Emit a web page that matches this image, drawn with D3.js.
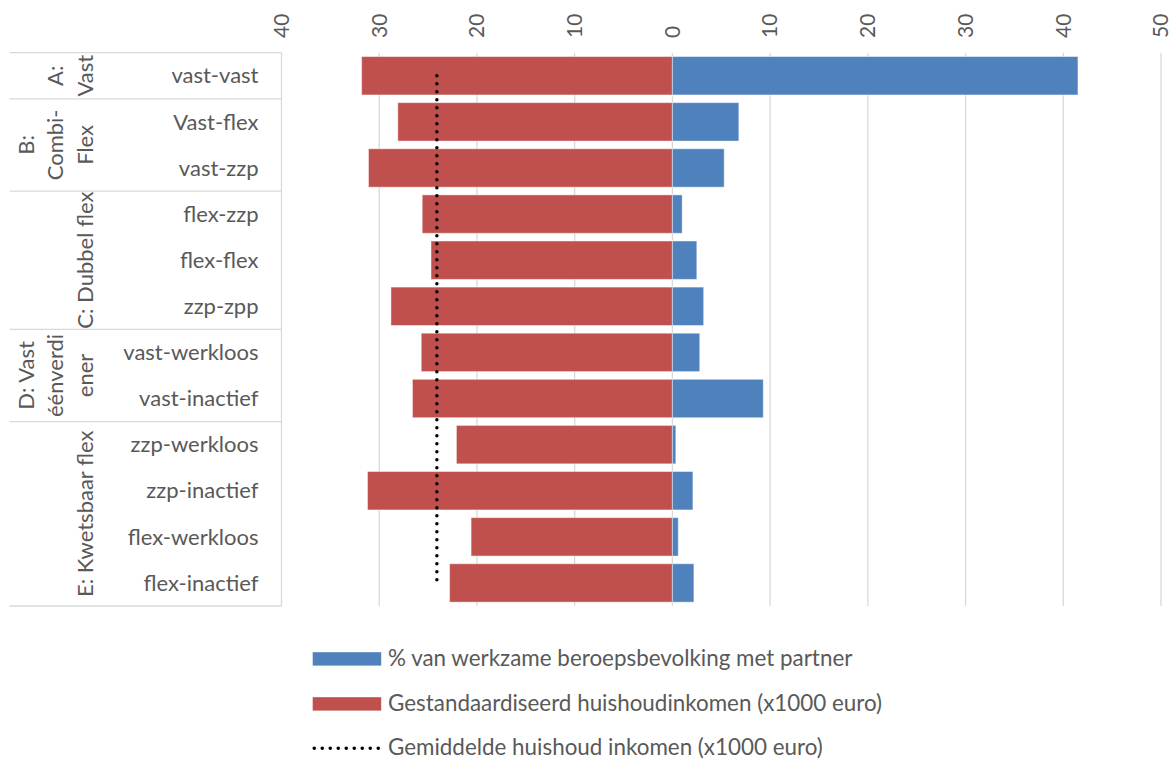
<!DOCTYPE html>
<html>
<head>
<meta charset="utf-8">
<script src="https://cdn.jsdelivr.net/npm/d3@7"></script>
<style>
    body { margin: 0; background: #fff; }
    svg { display: block; font-family: Lato, "Open Sans", sans-serif; }
</style>
</head>
<body>
<svg id="chart" width="1174" height="760"></svg>
<script>
// Data vars
const categories = [
    "vast-vast", "Vast-flex", "vast-zzp", "flex-zzp", "flex-flex", "zzp-zpp",
    "vast-werkloos", "vast-inactief", "zzp-werkloos", "zzp-inactief",
    "flex-werkloos", "flex-inactief"
];
// % van werkzame beroepsbevolking met partner
const sharePartner = [41.5, 6.8, 5.3, 1.0, 2.5, 3.2, 2.8, 9.3, 0.35, 2.1, 0.6, 2.2];
// Gestandaardiseerd huishoudinkomen (x1000 euro), drawn to the left
const income = [31.8, 28.1, 31.1, 25.6, 24.7, 28.8, 25.7, 26.6, 22.1, 31.2, 20.6, 22.8];
// Gemiddelde huishoud inkomen (x1000 euro)
const avgIncome = 24.1;

// Group column of the category table
const groupLines = [
    ["A:", "Vast"],
    ["B:", "Combi-", "Flex"],
    ["C: Dubbel flex"],
    ["D: Vast", "éénverdi", "ener"],
    ["E: Kwetsbaar flex"]
];
const groupMembers = [
    ["vast-vast"],
    ["Vast-flex", "vast-zzp"],
    ["flex-zzp", "flex-flex", "zzp-zpp"],
    ["vast-werkloos", "vast-inactief"],
    ["zzp-werkloos", "zzp-inactief", "flex-werkloos", "flex-inactief"]
];

const tickValues = [-40, -30, -20, -10, 0, 10, 20, 30, 40, 50];
const legendLabels = [
    "% van werkzame beroepsbevolking met partner",
    "Gestandaardiseerd huishoudinkomen (x1000 euro)",
    "Gemiddelde huishoud inkomen (x1000 euro)"
];

const BLUE = "#4F81BD";
const RED = "#C0504D";
const TEXT = "#595959";
const GRID = "#D9D9D9";
const FONT_SIZE = 22;

const svg = d3.select("#chart");

// Scales
const xScale = d3.scaleLinear()
    .domain([-40, 50])
    .range([281.5, 1161]);

const yScale = d3.scaleBand()
    .domain(categories)
    .range([52.7, 606])
    .paddingInner(0.167)
    .paddingOuter(0.0835);

const plotTop = yScale.range()[0];
const plotBottom = yScale.range()[1];
const rowCenter = c => yScale(c) + yScale.bandwidth() / 2;
const rowTop = c => yScale(c) - yScale.step() * yScale.paddingInner() / 2;
const rowBottom = c => rowTop(c) + yScale.step();

// Gridlines
svg.append("g")
    .selectAll("line")
    .data(tickValues)
    .join("line")
        .attr("x1", d => xScale(d))
        .attr("x2", d => xScale(d))
        .attr("y1", plotTop)
        .attr("y2", plotBottom)
        .attr("stroke", GRID)
        .attr("stroke-width", 1.3);

// Tick labels at the top, rotated
svg.append("g")
    .selectAll("text")
    .data(tickValues)
    .join("text")
        .attr("transform", d => `translate(${xScale(d)},38) rotate(-90)`)
        .attr("dy", "0.35em")
        .attr("text-anchor", "start")
        .attr("fill", TEXT)
        .attr("font-size", 21)
        .text(d => Math.abs(d));

// Category table lines
const tableLeft = 9.5;
const tableRight = xScale(-40);
const boundaries = [plotTop, ...groupMembers.map(g => rowBottom(g[g.length - 1]))];
boundaries[boundaries.length - 1] = plotBottom;

svg.append("g")
    .selectAll("line")
    .data(boundaries)
    .join("line")
        .attr("x1", tableLeft)
        .attr("x2", tableRight)
        .attr("y1", d => d)
        .attr("y2", d => d)
        .attr("stroke", GRID)
        .attr("stroke-width", 1.3);

// Category labels
svg.append("g")
    .selectAll("text")
    .data(categories)
    .join("text")
        .attr("x", 258.5)
        .attr("y", d => rowCenter(d))
        .attr("dy", "0.35em")
        .attr("text-anchor", "end")
        .attr("fill", TEXT)
        .attr("font-size", FONT_SIZE)
        .text(d => d);

// Group labels (rotated, stacked towards the category column)
const LINE_STEP = 29.3;
groupLines.forEach((lines, gi) => {
    const members = groupMembers[gi];
    const cy = (rowTop(members[0]) + rowBottom(members[members.length - 1])) / 2;
    lines.forEach((line, li) => {
        const cx = 85 - (lines.length - 1 - li) * LINE_STEP;
        svg.append("text")
            .attr("transform", `translate(${cx},${cy}) rotate(-90)`)
            .attr("dy", "0.35em")
            .attr("text-anchor", "middle")
            .attr("fill", TEXT)
            .attr("font-size", FONT_SIZE)
            .text(line);
    });
});

// Income bars (to the left of zero)
svg.append("g")
    .selectAll("rect")
    .data(categories)
    .join("rect")
        .attr("x", (d, i) => xScale(-income[i]))
        .attr("y", d => yScale(d))
        .attr("width", (d, i) => xScale(0) - xScale(-income[i]))
        .attr("height", yScale.bandwidth())
        .attr("fill", RED)
        .attr("stroke", "rgba(255,255,255,0.45)")
        .attr("stroke-width", 1);

// Share bars (to the right of zero)
svg.append("g")
    .selectAll("rect")
    .data(categories)
    .join("rect")
        .attr("x", xScale(0))
        .attr("y", d => yScale(d))
        .attr("width", (d, i) => xScale(sharePartner[i]) - xScale(0))
        .attr("height", yScale.bandwidth())
        .attr("fill", BLUE)
        .attr("stroke", "rgba(255,255,255,0.45)")
        .attr("stroke-width", 1);

// Average income dotted line
const avgLine = d3.line()
    .x(() => xScale(-avgIncome))
    .y(d => rowCenter(d));

svg.append("path")
    .datum([categories[0], categories[categories.length - 1]])
    .attr("d", avgLine)
    .attr("fill", "none")
    .attr("stroke", "#000")
    .attr("stroke-width", 3.5)
    .attr("stroke-linecap", "round")
    .attr("stroke-dasharray", "0.1 7.9");

// Legend
const legendX = 312.7;
const legendBaselines = [665.5, 710.5, 755];
const legend = svg.append("g");

[BLUE, RED].forEach((color, i) => {
    legend.append("rect")
        .attr("x", legendX)
        .attr("y", legendBaselines[i] - 13.3)
        .attr("width", 68.5)
        .attr("height", 13.4)
        .attr("fill", color);
});

legend.append("line")
    .attr("x1", legendX + 1.5)
    .attr("x2", legendX + 67)
    .attr("y1", 748.3)
    .attr("y2", 748.3)
    .attr("stroke", "#000")
    .attr("stroke-width", 3.5)
    .attr("stroke-linecap", "round")
    .attr("stroke-dasharray", "0.1 7.9");

legend.selectAll("text")
    .data(legendLabels)
    .join("text")
        .attr("x", 388)
        .attr("y", (d, i) => legendBaselines[i])
        .attr("fill", TEXT)
        .attr("font-size", 22.4)
        .text(d => d);
</script>
</body>
</html>
